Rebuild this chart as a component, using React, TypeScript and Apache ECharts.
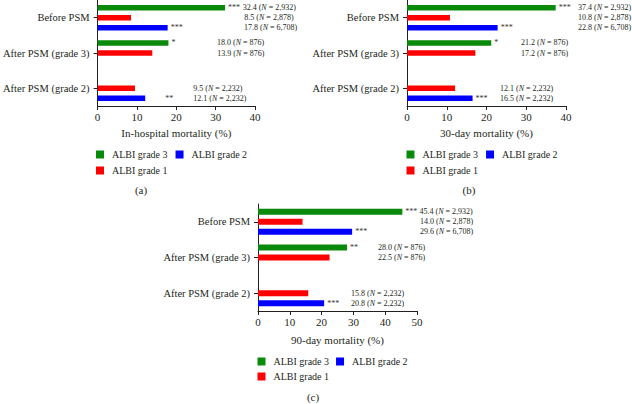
import React, { useEffect, useRef } from 'react';
import * as echarts from 'echarts';

// Category groups, top to bottom
const groups = ['Before PSM', 'After PSM (grade 3)', 'After PSM (grade 2)'];
// Series order inside each group: grade 3 on top, grade 1 in the middle, grade 2 at the bottom
const seriesNames = ['ALBI grade 3', 'ALBI grade 1', 'ALBI grade 2'];
const legendOrder = ['ALBI grade 3', 'ALBI grade 2', 'ALBI grade 1'];
const seriesColors = ['#0a8a0a', '#ff0000', '#0000ff'];

// Patients per group (N)
const nGrade3 = ['2,932', '876', null];
const nGrade1 = ['2,878', '876', '2,232'];
const nGrade2 = ['6,708', null, '2,232'];

// In-hospital mortality (%)
const inHospGrade3 = [32.4, 18.0, null];
const inHospGrade1 = [8.5, 13.9, 9.5];
const inHospGrade2 = [17.8, null, 12.1];
const inHospSig3 = ['***', '*', ''];
const inHospSig1 = ['', '', ''];
const inHospSig2 = ['***', '', '**'];

// 30-day mortality (%)
const day30Grade3 = [37.4, 21.2, null];
const day30Grade1 = [10.8, 17.2, 12.1];
const day30Grade2 = [22.8, null, 16.5];
const day30Sig3 = ['***', '*', ''];
const day30Sig1 = ['', '', ''];
const day30Sig2 = ['***', '', '***'];

// 90-day mortality (%)
const day90Grade3 = [45.4, 28.0, null];
const day90Grade1 = [14.0, 22.5, 15.8];
const day90Grade2 = [29.6, null, 20.8];
const day90Sig3 = ['***', '**', ''];
const day90Sig1 = ['', '', ''];
const day90Sig2 = ['***', '', '***'];

const axisNames = ['In-hospital mortality (%)', '30-day mortality (%)', '90-day mortality (%)'];
const axisMax = [40, 40, 50];
const panelTags = ['(a)', '(b)', '(c)'];

const FONT = "'Liberation Serif', 'Times New Roman', serif";
const INK = '#231f20';
const LABEL_DIST = 3;

type Panel = {
  values: (number | null)[][];
  sig: string[][];
  counts: (string | null)[][];
  name: string;
  max: number;
  tag: string;
};

const panels: Panel[] = [
  {
    values: [inHospGrade3, inHospGrade1, inHospGrade2],
    sig: [inHospSig3, inHospSig1, inHospSig2],
    counts: [nGrade3, nGrade1, nGrade2],
    name: axisNames[0],
    max: axisMax[0],
    tag: panelTags[0],
  },
  {
    values: [day30Grade3, day30Grade1, day30Grade2],
    sig: [day30Sig3, day30Sig1, day30Sig2],
    counts: [nGrade3, nGrade1, nGrade2],
    name: axisNames[1],
    max: axisMax[1],
    tag: panelTags[1],
  },
  {
    values: [day90Grade3, day90Grade1, day90Grade2],
    sig: [day90Sig3, day90Sig1, day90Sig2],
    counts: [nGrade3, nGrade1, nGrade2],
    name: axisNames[2],
    max: axisMax[2],
    tag: panelTags[2],
  },
];

// Panel geometry (pixels) and where each value caption starts, measured from the axis origin
const layouts = [
  {
    left: 96.5, top: -2, width: 158.5, height: 108, nameGap: 21, legendTop: 149, legendGap: 5,
    barWidth: 5.5, barGap: '82%', tagX: 141, tagY: 190,
    textAt: [[146, 120, 0], [147, 120, 96], [147, 0, 96]],
    starShift: [[0, 0, 0], [0, 0, 0], [0, 0, 17]],
  },
  {
    left: 407, top: -2, width: 159, height: 108, nameGap: 21, legendTop: 149, legendGap: 5,
    barWidth: 5.5, barGap: '82%', tagX: 469, tagY: 190,
    textAt: [[171, 114, 0], [171, 114, 93], [171, 0, 93]],
    starShift: [[0, 0, 0], [0, 0, 0], [0, 0, 0]],
  },
  {
    left: 258, top: 204, width: 159, height: 107, nameGap: 23, legendTop: 356, legendGap: 4,
    barWidth: 6, barGap: '67%', tagX: 313, tagY: 397,
    textAt: [[161.5, 120, 0], [162, 120, 93], [162, 0, 93]],
    starShift: [[0, 0, 0], [0, 0, 0], [0, 0, 0]],
  },
];

function buildOption() {
  const grid: any[] = [];
  const xAxis: any[] = [];
  const yAxis: any[] = [];
  const series: any[] = [];
  const legend: any[] = [];
  const graphic: any[] = [];

  panels.forEach((p, pi) => {
    const L = layouts[pi];
    grid.push({ left: L.left, top: L.top, width: L.width, height: L.height, containLabel: false });
    xAxis.push({
      gridIndex: pi,
      type: 'value',
      min: 0,
      max: p.max,
      interval: 10,
      name: p.name,
      nameLocation: 'middle',
      nameGap: L.nameGap,
      nameTextStyle: { fontFamily: FONT, fontSize: 11, color: INK },
      axisLine: { show: true, lineStyle: { color: INK, width: 1 } },
      axisTick: { show: true, length: 4, lineStyle: { color: INK } },
      axisLabel: { fontFamily: FONT, fontSize: 11, color: INK, margin: 5 },
      splitLine: { show: false },
    });
    yAxis.push({
      gridIndex: pi,
      type: 'category',
      inverse: true,
      data: groups,
      axisLine: { show: true, lineStyle: { color: INK, width: 1 } },
      axisTick: { show: true, alignWithLabel: true, length: 4, lineStyle: { color: INK } },
      axisLabel: { fontFamily: FONT, fontSize: 10.5, color: INK, margin: 8 },
      splitLine: { show: false },
    });

    const pxPerUnit = L.width / p.max;
    p.values.forEach((vals, si) => {
      const data = vals.map((v, gi) => {
        if (v == null) return '-';
        const stars = p.sig[si][gi];
        const n = p.counts[si][gi];
        const barPx = v * pxPerUnit;
        const shift = L.starShift[si][gi];
        const room = Math.max(2, L.textAt[si][gi] - barPx - LABEL_DIST - shift);
        const lead = shift > 0 ? `{p| }` : '';
        return {
          value: v,
          label: {
            show: true,
            position: 'right',
            distance: LABEL_DIST,
            formatter: `${lead}{s|${stars || ' '}}{v|${v.toFixed(1)} (}{n|N}{v| = ${n})}`,
            rich: {
              p: { width: shift, fontSize: 8, fontFamily: FONT },
              s: { width: room, fontSize: 8, fontFamily: FONT, color: '#333' },
              v: { fontSize: 8, fontFamily: FONT, color: INK },
              n: { fontSize: 8, fontFamily: FONT, color: INK, fontStyle: 'italic' },
            },
          },
        };
      });
      series.push({
        type: 'bar',
        name: seriesNames[si],
        xAxisIndex: pi,
        yAxisIndex: pi,
        barWidth: L.barWidth,
        barGap: L.barGap,
        itemStyle: { color: seriesColors[si] },
        data,
      });
    });

    legend.push({
      data: legendOrder,
      left: L.left - 0.5,
      top: L.legendTop,
      width: 165,
      orient: 'horizontal',
      padding: 0,
      itemWidth: 8,
      itemHeight: 8,
      itemGap: L.legendGap,
      icon: 'rect',
      textStyle: { fontFamily: FONT, fontSize: 10, color: INK, padding: [0, 3, 0, 3], lineHeight: 11 },
    });

    graphic.push({
      type: 'text',
      x: L.tagX,
      y: L.tagY,
      style: {
        text: p.tag,
        font: `11px ${FONT}`,
        fill: INK,
        textAlign: 'center',
        textVerticalAlign: 'middle',
      },
    });
  });

  return {
    animation: false,
    backgroundColor: '#ffffff',
    grid,
    xAxis,
    yAxis,
    series,
    legend,
    graphic,
  };
}

export default function App() {
  const ref = useRef<HTMLDivElement>(null);
  useEffect(() => {
    if (!ref.current) return;
    const chart = echarts.init(ref.current, undefined, { renderer: 'svg' });
    chart.setOption(buildOption() as any);
    return () => chart.dispose();
  }, []);
  return (
    <div
      ref={ref}
      style={{ position: 'absolute', left: 0, top: 0, width: 632, height: 404, background: '#fff' }}
    />
  );
}
